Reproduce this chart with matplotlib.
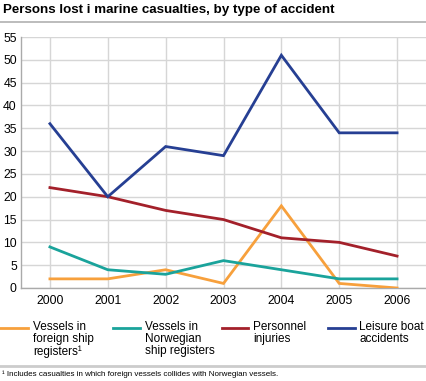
import matplotlib
matplotlib.use("Agg")
import matplotlib.pyplot as plt
from matplotlib.lines import Line2D

plt.rcParams['font.family'] = ['Liberation Sans', 'DejaVu Sans']

years = [2000, 2001, 2002, 2003, 2004, 2005, 2006]
foreign = [2, 2, 4, 1, 18, 1, 0]
norwegian = [9, 4, 3, 6, 4, 2, 2]
personnel = [22, 20, 17, 15, 11, 10, 7]
leisure = [36, 20, 31, 29, 51, 34, 34]

series_labels = ["Vessels in\nforeign ship\nregisters\u00b9",
                 "Vessels in\nNorwegian\nship registers",
                 "Personnel\ninjuries",
                 "Leisure boat\naccidents"]
colors = ["#f7a03c", "#1aa39b", "#a3202a", "#263f93"]
yticks = list(range(0, 60, 5))

W, H = 426, 381
fig = plt.figure(figsize=(W / 100, H / 100), dpi=100)
ax = fig.add_axes([21 / W, 1 - 288 / H, 1 - 21 / W, (288 - 37) / H])

for vals, c in zip([foreign, norwegian, personnel, leisure], colors):
    ax.plot(years, vals, color=c, lw=2, solid_joinstyle='miter', zorder=3)

ax.set_xlim(1999.5, 2006.5)
ax.set_ylim(0, 55)
ax.set_xticks(years)
ax.set_yticks(yticks)
ax.grid(True, color="#d6d6d6", lw=1)
ax.set_axisbelow(True)
ax.tick_params(length=0, labelsize=8.8, colors="#000000")
ax.tick_params(axis='y', pad=3)
ax.tick_params(axis='x', pad=5)
for s in ['top', 'right']:
    ax.spines[s].set_visible(False)
for s in ['left', 'bottom']:
    ax.spines[s].set_color("#aaaaaa")
    ax.spines[s].set_linewidth(1)

# title
fig.text(3 / W, 1 - 10 / H, "Persons lost i marine casualties, by type of accident",
         fontsize=9.65, fontweight='bold', va='center', ha='left')
fig.add_artist(Line2D([0, 1], [1 - 21.5 / H, 1 - 21.5 / H], color="#b0b0b0", lw=1.2,
                      transform=fig.transFigure))

# legend
line_x = [(0, 28), (113, 140), (222, 248), (328, 355)]
text_x = [33, 145, 253, 359]
for (x0, x1), tx, lab, c in zip(line_x, text_x, series_labels, colors):
    fig.add_artist(Line2D([x0 / W, x1 / W], [1 - 328 / H, 1 - 328 / H], color=c, lw=2,
                          transform=fig.transFigure))
    fig.text(tx / W, 1 - 321.5 / H, lab, fontsize=8.5, va='top', ha='left', linespacing=0.98)

fig.add_artist(Line2D([0, 1], [1 - 366 / H, 1 - 366 / H], color="#cccccc", lw=2,
                      transform=fig.transFigure))
fig.text(2 / W, 1 - 374 / H,
         "\u00b9 Includes casualties in which foreign vessels collides with Norwegian vessels.",
         fontsize=5.75, va='center', ha='left')

fig.savefig("out.png", dpi=100)
